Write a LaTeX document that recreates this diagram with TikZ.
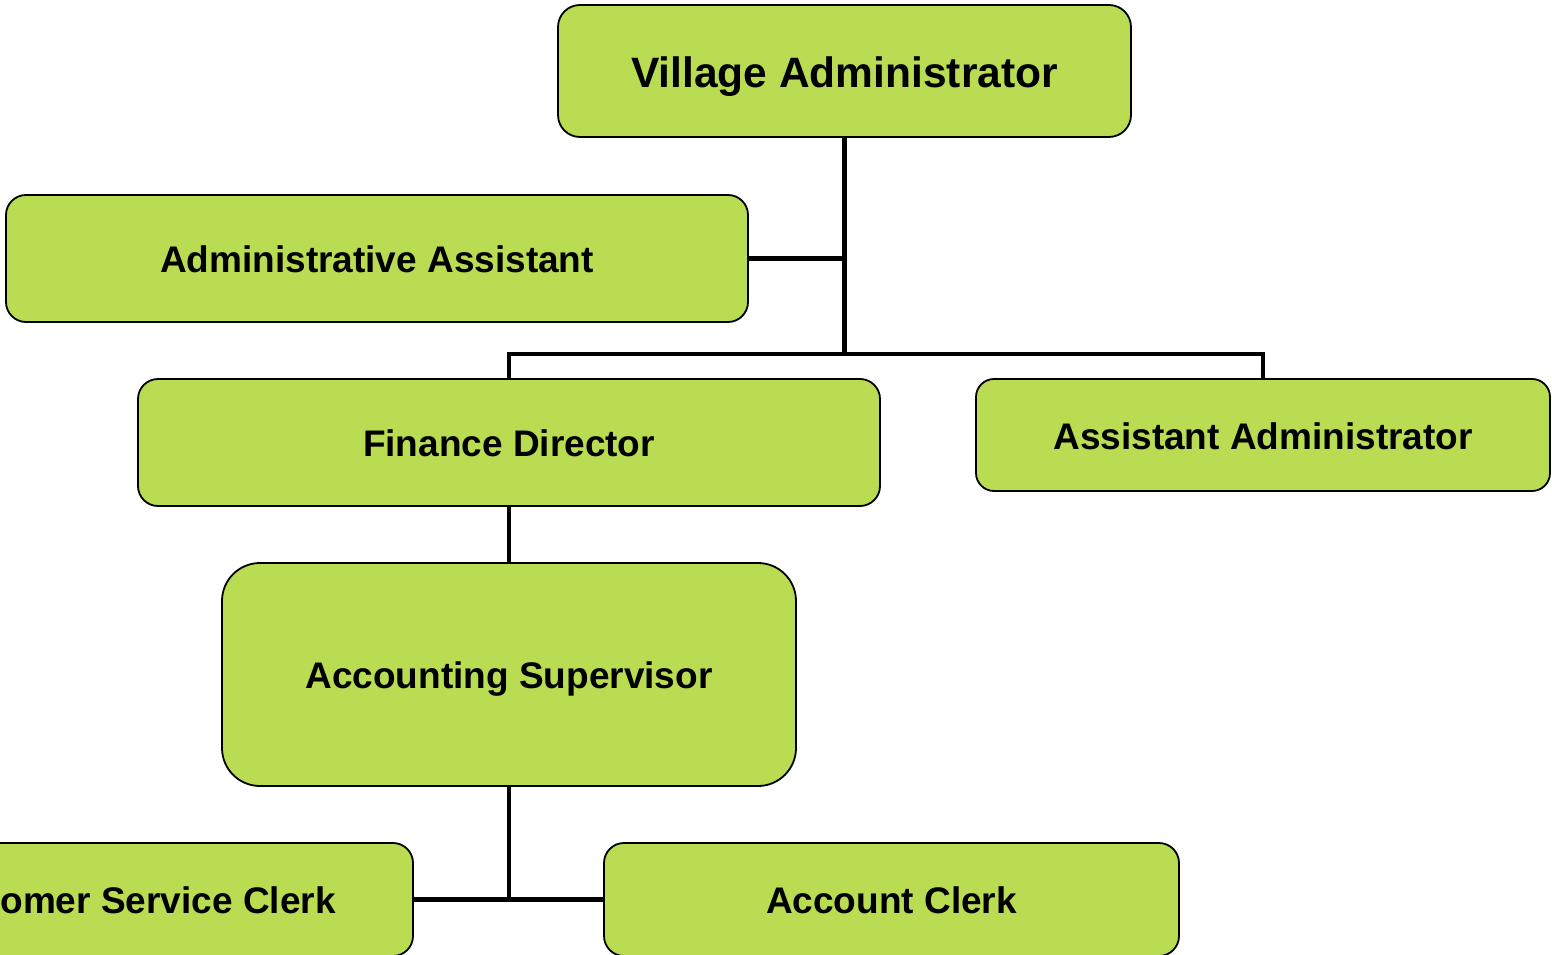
\documentclass[tikz,border=0pt]{standalone}
\usepackage{fontspec}
\setmainfont{Liberation Sans}
\definecolor{boxgreen}{RGB}{185,220,82}
\begin{document}
\begin{tikzpicture}[x=1pt,y=-1pt,
  orgbox/.style={draw=black, line width=1.8pt, fill=boxgreen, rounded corners=20pt,
    inner sep=0pt, text height=28.5pt, text depth=0pt,
    font=\fontsize{37}{44}\selectfont\bfseries, text=black},
  conn/.style={draw=black, line width=4.5pt}]
\useasboundingbox (0,0) rectangle (1552,955);
\clip (0,0) rectangle (1552,955);
\node[orgbox, rounded corners=22pt, minimum width=573pt, minimum height=132pt, text height=32.7pt,
  font=\fontsize{42.5}{50}\selectfont\bfseries] (va) at (844.5,71) {Village Administrator};
\node[orgbox, minimum width=742pt, minimum height=127pt] (aa) at (377,258.5) {Administrative Assistant};
\node[orgbox, minimum width=742pt, minimum height=127pt] (fd) at (509,442.5) {Finance Director};
\node[orgbox, rounded corners=18pt, minimum width=574pt, minimum height=112pt] (asa) at (1263,435) {Assistant Administrator};
\node[orgbox, rounded corners=38pt, minimum width=574pt, minimum height=223pt] (as) at (509,674.5) {Accounting Supervisor};
\node[orgbox, minimum width=572pt, minimum height=113pt] (csc) at (127,899.5) {Customer Service Clerk};
\node[orgbox, minimum width=575pt, minimum height=113pt] (ac) at (891.5,899.5) {Account Clerk};
\coordinate (j1) at (va.south |- 0,354);
\draw[conn] (va.south) -- (j1);
\draw[conn] (aa.east) -- (aa.east -| va.south);
\draw[conn] (fd.north) |- (j1) -| (asa.north);
\draw[conn] (fd.south) -- (as.north);
\coordinate (j2) at (as.south |- csc.east);
\draw[conn] (as.south) -- (j2);
\draw[conn] (csc.east) -- (ac.west);
\end{tikzpicture}
\end{document}
